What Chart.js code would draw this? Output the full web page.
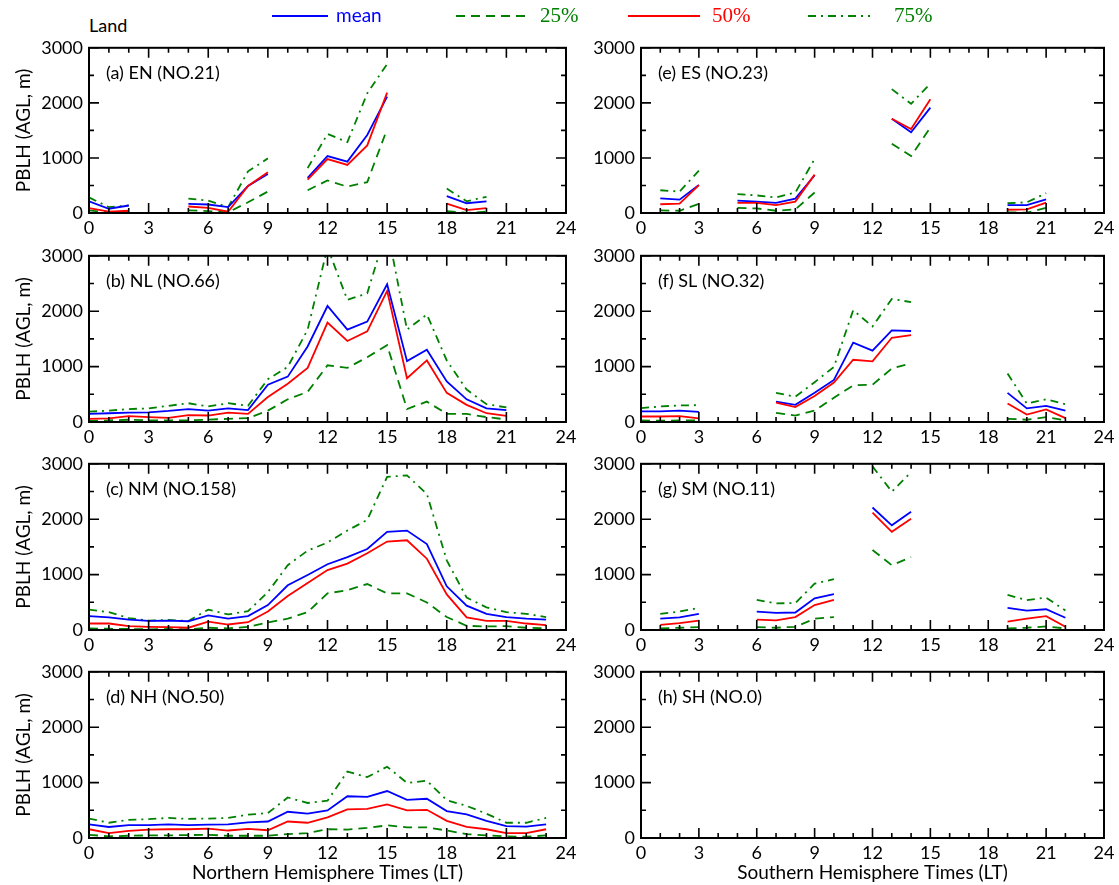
<!DOCTYPE html>
<html>
<head>
<meta charset="utf-8">
<script src="https://cdn.jsdelivr.net/npm/chart.js@4.4.0/dist/chart.umd.min.js"></script>
<style>
body { margin: 0; background: #fff; width: 1119px; height: 885px; position: relative; overflow: hidden; font-family: Lato, sans-serif; }
canvas { position: absolute; }
#land { position: absolute; left: 89px; top: 14px; font-size: 18px; color: #000; }
</style>
</head>
<body>
<div id="land">Land</div>
<script>
// local time (hours), one entry per hour; null = no data
var hours = [0, 1, 2, 3, 4, 5, 6, 7, 8, 9, 10, 11, 12, 13, 14, 15, 16, 17, 18, 19, 20, 21, 22, 23];
var _ = null;

// (a) EN
var enMean = [213, 77, 136, _, _, 165, 154, 106, 490, 709, _, 638, 1034, 933, 1417, 2114, _, _, 307, 177, 213, _, _, _];
var enP50 = [89, 24, 41, _, _, 118, 94, 24, 490, 738, _, 608, 980, 874, 1228, 2185, _, _, 171, 53, 89, _, _, _];
var enP25 = [47, 12, 18, _, _, 47, 35, 12, 195, 390, _, 413, 591, 478, 561, 1524, _, _, 35, 0, 24, _, _, _];
var enP75 = [283, 106, 136, _, _, 260, 224, 106, 756, 992, _, 815, 1435, 1287, 2173, 2705, _, _, 443, 213, 295, _, _, _];

// (b) NL
var nlMean = [146, 158, 170, 175, 199, 234, 205, 246, 216, 673, 819, 1363, 2094, 1667, 1813, 2485, 1099, 1304, 731, 409, 246, 216, _, _];
var nlP50 = [58, 64, 105, 88, 76, 123, 117, 170, 146, 450, 690, 977, 1795, 1462, 1637, 2368, 789, 1111, 526, 310, 158, 111, _, _];
var nlP25 = [18, 29, 41, 29, 29, 29, 41, 58, 70, 205, 409, 544, 1023, 977, 1170, 1386, 234, 368, 146, 146, 88, 47, _, _];
var nlP75 = [187, 205, 234, 246, 292, 339, 281, 339, 292, 772, 994, 1667, 3150, 2205, 2322, 3500, 1667, 1942, 1111, 585, 322, 263, _, _];

// (c) NM
var nmMean = [251, 228, 187, 164, 170, 158, 263, 205, 251, 450, 807, 994, 1187, 1316, 1462, 1772, 1795, 1550, 789, 439, 292, 234, 205, 187];
var nmP50 = [117, 117, 70, 58, 53, 41, 152, 99, 140, 333, 614, 848, 1082, 1199, 1386, 1596, 1620, 1287, 643, 228, 164, 164, 117, 88];
var nmP25 = [29, 23, 18, 12, 18, 12, 41, 29, 58, 135, 205, 322, 661, 719, 830, 661, 661, 497, 234, 76, 64, 70, 41, 29];
var nmP75 = [368, 322, 216, 170, 181, 164, 368, 281, 339, 684, 1170, 1433, 1579, 1795, 1988, 2766, 2790, 2456, 1257, 585, 409, 322, 292, 234];

// (d) NH
var nhMean = [246, 199, 234, 234, 246, 234, 240, 246, 281, 298, 474, 439, 497, 754, 743, 848, 690, 708, 485, 427, 310, 216, 205, 246];
var nhP50 = [158, 88, 129, 152, 158, 158, 170, 135, 164, 140, 298, 275, 374, 515, 526, 608, 497, 509, 310, 199, 158, 88, 88, 158];
var nhP25 = [58, 29, 41, 47, 47, 53, 58, 41, 41, 41, 70, 88, 158, 152, 181, 228, 193, 193, 135, 70, 47, 29, 23, 47];
var nhP75 = [351, 275, 327, 339, 363, 345, 351, 363, 421, 450, 731, 632, 673, 1199, 1099, 1287, 994, 1035, 684, 579, 439, 275, 275, 363];

// (e) ES
var esMean = [_, 266, 242, 508, _, 224, 207, 183, 260, 685, _, _, _, 1713, 1465, 1913, _, _, _, 142, 142, 248, _, _];
var esP50 = [_, 159, 171, 508, _, 183, 183, 142, 207, 697, _, _, _, 1713, 1524, 2067, _, _, _, 59, 65, 189, _, _];
var esP25 = [_, 47, 41, 165, _, 94, 83, 41, 65, 372, _, _, _, 1258, 1034, 1553, _, _, _, 12, 6, 94, _, _];
var esP75 = [_, 413, 390, 768, _, 343, 319, 283, 372, 980, _, _, _, 2250, 1984, 2351, _, _, _, 177, 195, 360, _, _];

// (f) SL
var slMean = [193, 193, 205, 181, _, _, _, 368, 310, 526, 760, 1433, 1287, 1655, 1643, _, _, _, _, 526, 246, 292, 205, _];
var slP50 = [99, 99, 105, 64, _, _, _, 351, 269, 468, 713, 1123, 1094, 1520, 1567, _, _, _, _, 333, 135, 228, 70, _];
var slP25 = [29, 23, 29, 29, _, _, _, 164, 117, 205, 439, 661, 673, 965, 1058, _, _, _, _, 58, 41, 88, 29, _];
var slP75 = [251, 281, 298, 304, _, _, _, 526, 456, 719, 994, 2018, 1725, 2222, 2164, _, _, _, _, 877, 333, 409, 322, _];

// (g) SM
var smMean = [_, 205, 228, 292, _, _, 333, 310, 316, 573, 649, _, 2211, 1889, 2135, _, _, _, _, 398, 351, 374, 222, _];
var smP50 = [_, 94, 123, 170, _, _, 187, 175, 234, 450, 544, _, 2117, 1772, 2006, _, _, _, _, 152, 205, 251, 58, _];
var smP25 = [_, 29, 41, 53, _, _, 53, 41, 58, 205, 234, _, 1444, 1170, 1316, _, _, _, _, 29, 41, 64, 29, _];
var smP75 = [_, 292, 333, 398, _, _, 544, 480, 486, 836, 918, _, 2953, 2497, 2848, _, _, _, _, 632, 538, 585, 351, _];

// (h) SH - no stations
var shEmpty = [];

var panels = [
  { label: '(a) EN (NO.21)', col: 0, row: 0, mean: enMean, p25: enP25, p50: enP50, p75: enP75 },
  { label: '(b) NL (NO.66)', col: 0, row: 1, mean: nlMean, p25: nlP25, p50: nlP50, p75: nlP75 },
  { label: '(c) NM (NO.158)', col: 0, row: 2, mean: nmMean, p25: nmP25, p50: nmP50, p75: nmP75 },
  { label: '(d) NH (NO.50)', col: 0, row: 3, mean: nhMean, p25: nhP25, p50: nhP50, p75: nhP75 },
  { label: '(e) ES (NO.23)', col: 1, row: 0, mean: esMean, p25: esP25, p50: esP50, p75: esP75 },
  { label: '(f) SL (NO.32)', col: 1, row: 1, mean: slMean, p25: slP25, p50: slP50, p75: slP75 },
  { label: '(g) SM (NO.11)', col: 1, row: 2, mean: smMean, p25: smP25, p50: smP50, p75: smP75 },
  { label: '(h) SH (NO.0)', col: 1, row: 3, mean: shEmpty, p25: shEmpty, p50: shEmpty, p75: shEmpty }
];
var xTitles = ['Northern Hemisphere Times (LT)', 'Southern Hemisphere Times (LT)'];
var yTitle = 'PBLH (AGL, m)';

var BLUE = '#0000ff', RED = '#ff0000', GREEN = '#008000';
var DASH25 = [9, 6], DASH75 = [8, 5, 2, 5];

// page layout
var plotL = [89, 641], plotR = [566, 1104];
var canL = [0, 586], canR = [586, 1119];
var plotT = [43, 251, 459, 667], plotB = [213, 422, 630, 838];
var FONT = 'Lato, sans-serif';

function series(vals) {
  return hours.map(function (h, i) { return { x: h, y: vals[i] === undefined ? null : vals[i] }; });
}

var framePlugin = {
  id: 'panelFrame',
  afterDraw: function (chart, args, opts) {
    var ctx = chart.ctx, a = chart.chartArea, x = chart.scales.x, y = chart.scales.y;
    ctx.save();
    ctx.strokeStyle = '#000';
    ctx.lineWidth = 1.6;
    ctx.beginPath();
    x.ticks.forEach(function (t) {
      var px = x.getPixelForValue(t.value), len = t.value % 3 === 0 ? 10 : 5;
      ctx.moveTo(px, a.bottom); ctx.lineTo(px, a.bottom - len);
      ctx.moveTo(px, a.top); ctx.lineTo(px, a.top + len);
    });
    y.ticks.forEach(function (t) {
      var py = y.getPixelForValue(t.value), len = t.value % 1000 === 0 ? 10 : 5;
      ctx.moveTo(a.left, py); ctx.lineTo(a.left + len, py);
      ctx.moveTo(a.right, py); ctx.lineTo(a.right - len, py);
    });
    ctx.stroke();
    ctx.lineWidth = 2;
    ctx.strokeRect(a.left, a.top, a.right - a.left, a.bottom - a.top);
    ctx.fillStyle = '#000';
    ctx.font = '18px ' + FONT;
    ctx.textBaseline = 'middle';
    ctx.fillText(opts.label, a.left + 17, a.top + 25);
    ctx.restore();
  }
};

panels.forEach(function (p) {
  var c = p.col, r = p.row, bottom = r === 3;
  var xh = bottom ? 885 - plotB[r] : 32;
  var top = plotT[r] - 12;
  var cv = document.createElement('canvas');
  var w = canR[c] - canL[c], h = 12 + (plotB[r] - plotT[r]) + xh;
  cv.width = w; cv.height = h;
  cv.style.left = canL[c] + 'px'; cv.style.top = top + 'px';
  cv.style.width = w + 'px'; cv.style.height = h + 'px';
  document.body.appendChild(cv);

  new Chart(cv, {
    type: 'line',
    data: {
      datasets: [
        { label: '50%', data: series(p.p50), borderColor: RED, borderWidth: 1.8 },
        { label: 'mean', data: series(p.mean), borderColor: BLUE, borderWidth: 1.8 },
        { label: '75%', data: series(p.p75), borderColor: GREEN, borderWidth: 1.8, borderDash: DASH75 },
        { label: '25%', data: series(p.p25), borderColor: GREEN, borderWidth: 1.8, borderDash: DASH25 }
      ]
    },
    options: {
      responsive: false,
      animation: false,
      spanGaps: false,
      elements: { point: { radius: 0 }, line: { tension: 0, fill: false } },
      layout: { padding: { top: 12, right: canR[c] - plotR[c], left: 0, bottom: 0 } },
      plugins: { legend: { display: false }, tooltip: { enabled: false }, panelFrame: { label: p.label } },
      scales: {
        x: {
          type: 'linear', min: 0, max: 24,
          grid: { display: false, drawTicks: false }, border: { display: false },
          ticks: { stepSize: 1, autoSkip: false, maxRotation: 0, padding: 4, color: '#000', font: { family: FONT, size: 18 },
            callback: function (v) { return v % 3 === 0 ? String(v) : ''; } },
          title: { display: bottom, text: xTitles[c], color: '#000', font: { family: FONT, size: 19 }, padding: { top: 0, bottom: 1 } },
          afterFit: function (s) { s.height = xh; }
        },
        y: {
          min: 0, max: 3000,
          grid: { display: false, drawTicks: false }, border: { display: false },
          ticks: { stepSize: 500, autoSkip: false, padding: 6, color: '#000', font: { family: FONT, size: 18 },
            callback: function (v) { return v % 1000 === 0 ? String(v) : ''; } },
          title: { display: c === 0, text: yTitle, color: '#000', font: { family: FONT, size: 19 }, padding: { top: 12, bottom: 0 } },
          afterFit: function (s) { s.width = plotL[c] - canL[c]; }
        }
      }
    },
    plugins: [framePlugin]
  });
});

// legend strip across the top: sample start, sample length, text offset
var legendX = [272, 456, 628, 808];
var legendLen = [56, 70, 72, 62];
var legendGap = [8, 14, 12, 24];
var legendPlugin = {
  id: 'legendStrip',
  afterDraw: function (chart) {
    var ctx = chart.ctx;
    chart.data.datasets.forEach(function (ds, i) {
      var x0 = legendX[i], yy = 16;
      ctx.save();
      ctx.strokeStyle = ds.borderColor;
      ctx.lineWidth = 1.8;
      ctx.setLineDash(ds.borderDash || []);
      ctx.beginPath(); ctx.moveTo(x0, yy); ctx.lineTo(x0 + legendLen[i], yy); ctx.stroke();
      ctx.fillStyle = ds.borderColor;
      ctx.font = ds.label === 'mean' ? '19px ' + FONT : '21px "Liberation Serif", serif';
      ctx.textBaseline = 'middle';
      ctx.fillText(ds.label, x0 + legendLen[i] + legendGap[i], yy);
      ctx.restore();
    });
  }
};
var lc = document.createElement('canvas');
lc.width = 1119; lc.height = 36;
lc.style.left = '0px'; lc.style.top = '0px';
document.body.appendChild(lc);
new Chart(lc, {
  type: 'line',
  data: {
    datasets: [
      { label: 'mean', data: [], borderColor: BLUE },
      { label: '25%', data: [], borderColor: GREEN, borderDash: DASH25 },
      { label: '50%', data: [], borderColor: RED },
      { label: '75%', data: [], borderColor: GREEN, borderDash: DASH75 }
    ]
  },
  options: {
    responsive: false, animation: false,
    plugins: { legend: { display: false }, tooltip: { enabled: false } },
    scales: { x: { display: false }, y: { display: false } }
  },
  plugins: [legendPlugin]
});
</script>
</body>
</html>
